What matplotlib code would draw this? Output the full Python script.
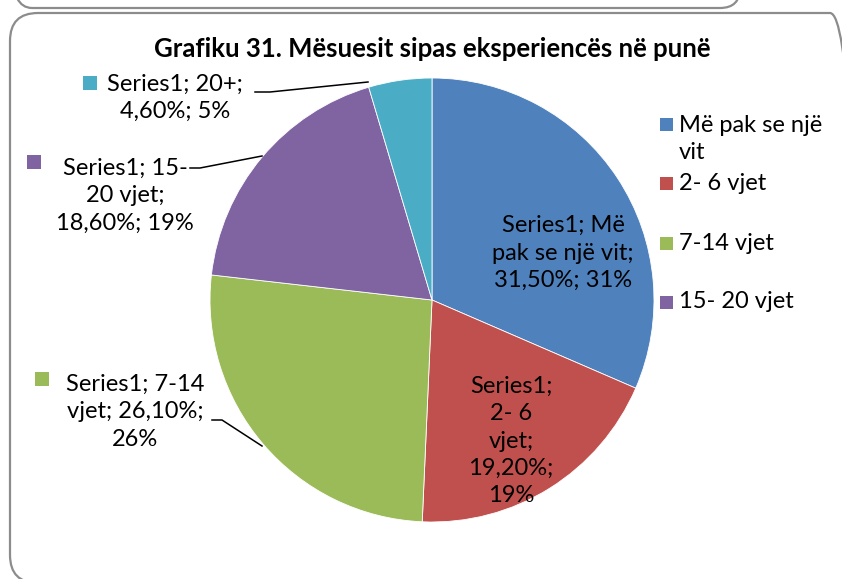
import matplotlib
matplotlib.use("Agg")
import matplotlib.pyplot as plt
from matplotlib.patches import FancyBboxPatch, Rectangle

plt.rcParams['font.family'] = ['Lato', 'DejaVu Sans']

title = "Grafiku 31. Mësuesit sipas eksperiencës në punë"
series_name = "Series1"
categories = ["Më pak se një vit", "2- 6 vjet", "7-14 vjet", "15- 20 vjet", "20+"]
values = [31.5, 19.2, 26.1, 18.6, 4.6]
colors = ["#4F81BD", "#C0504D", "#9BBB59", "#8064A2", "#4BACC6"]
legend_rows = ["Më pak se një\nvit", "2- 6 vjet", "7-14 vjet", "15- 20 vjet"]

W, H = 842, 579
fig = plt.figure(figsize=(W / 100, H / 100), dpi=100)
ax = fig.add_axes([0, 0, 1, 1])

def Y(y):
    return H - y

cx, cy, r = 432, Y(300), 222
total = sum(values)
wedges, _ = ax.pie(values, colors=colors, startangle=90, counterclock=False,
                   center=(cx, cy), radius=r,
                   wedgeprops=dict(edgecolor="white", linewidth=0.6))
ax.set_xlim(0, W)
ax.set_ylim(0, H)
ax.set_aspect("equal")
ax.axis("off")

def pct(v):
    return f"{v:.2f}".replace(".", ",") + "%"

def rnd(v):
    return f"{int(v / total * 100 + 0.4999):d}%"

c, v = categories, values
label_text = [
    f"{series_name}; Më\npak se një vit;\n{pct(v[0])}; {rnd(v[0])}",
    f"{series_name};\n2- 6\nvjet;\n{pct(v[1])};\n{rnd(v[1])}",
    f"{series_name}; 7-14\nvjet; {pct(v[2])};\n{rnd(v[2])}",
    f"{series_name}; 15-\n20 vjet;\n{pct(v[3])}; {rnd(v[3])}",
    f"{series_name}; {c[4]};\n{pct(v[4])}; {rnd(v[4])}",
]
label_pos = [(563, 253), (511, 441), (135, 412), (125, 196), (175, 98)]
fs = 17
ls = 1.38
for i, (txt, (x, y)) in enumerate(zip(label_text, label_pos)):
    ax.text(x, Y(y), txt, ha="center", va="center", fontsize=fs,
            linespacing=ls, color="black")

# legend-key squares beside outside labels
keys = [(2, 42, 379), (3, 34, 162), (4, 90, 83)]
for idx, x, y in keys:
    ax.add_patch(Rectangle((x - 7, Y(y) - 7), 14, 14, color=colors[idx], lw=0))

# leader lines
leaders = [
    [(212, 420), (222, 420), (262, 446)],
    [(190, 168), (200, 168), (262, 156)],
    [(255, 92), (270, 92), (368, 82)],
]
for pts in leaders:
    ax.plot([p[0] for p in pts], [Y(p[1]) for p in pts], color="black", lw=1.1)

# title
ax.text(432, Y(49), title, ha="center", va="center", fontsize=18.5,
        fontweight="bold", color="black")

# legend
leg_y = [139, 183, 243, 302]
for i, (lab, y) in enumerate(zip(legend_rows, leg_y)):
    ax.add_patch(Rectangle((660, Y(y) - 7 + (15 if i == 0 else 0)), 13, 13,
                           color=colors[i], lw=0))
    ax.text(679, Y(y), lab, ha="left", va="center", fontsize=fs,
            linespacing=ls, color="black")

# frames
ax.add_patch(FancyBboxPatch((10, Y(583)), 848, 583 - 13,
                            boxstyle="round,pad=0,rounding_size=28",
                            fc="none", ec="#8c8c8c", lw=1.6, clip_on=False))
ax.add_patch(FancyBboxPatch((12, Y(8)), 728, 60,
                            boxstyle="round,pad=0,rounding_size=20",
                            fc="none", ec="#8c8c8c", lw=1.6, clip_on=False))

fig.savefig("out.png", dpi=100, facecolor="white")
